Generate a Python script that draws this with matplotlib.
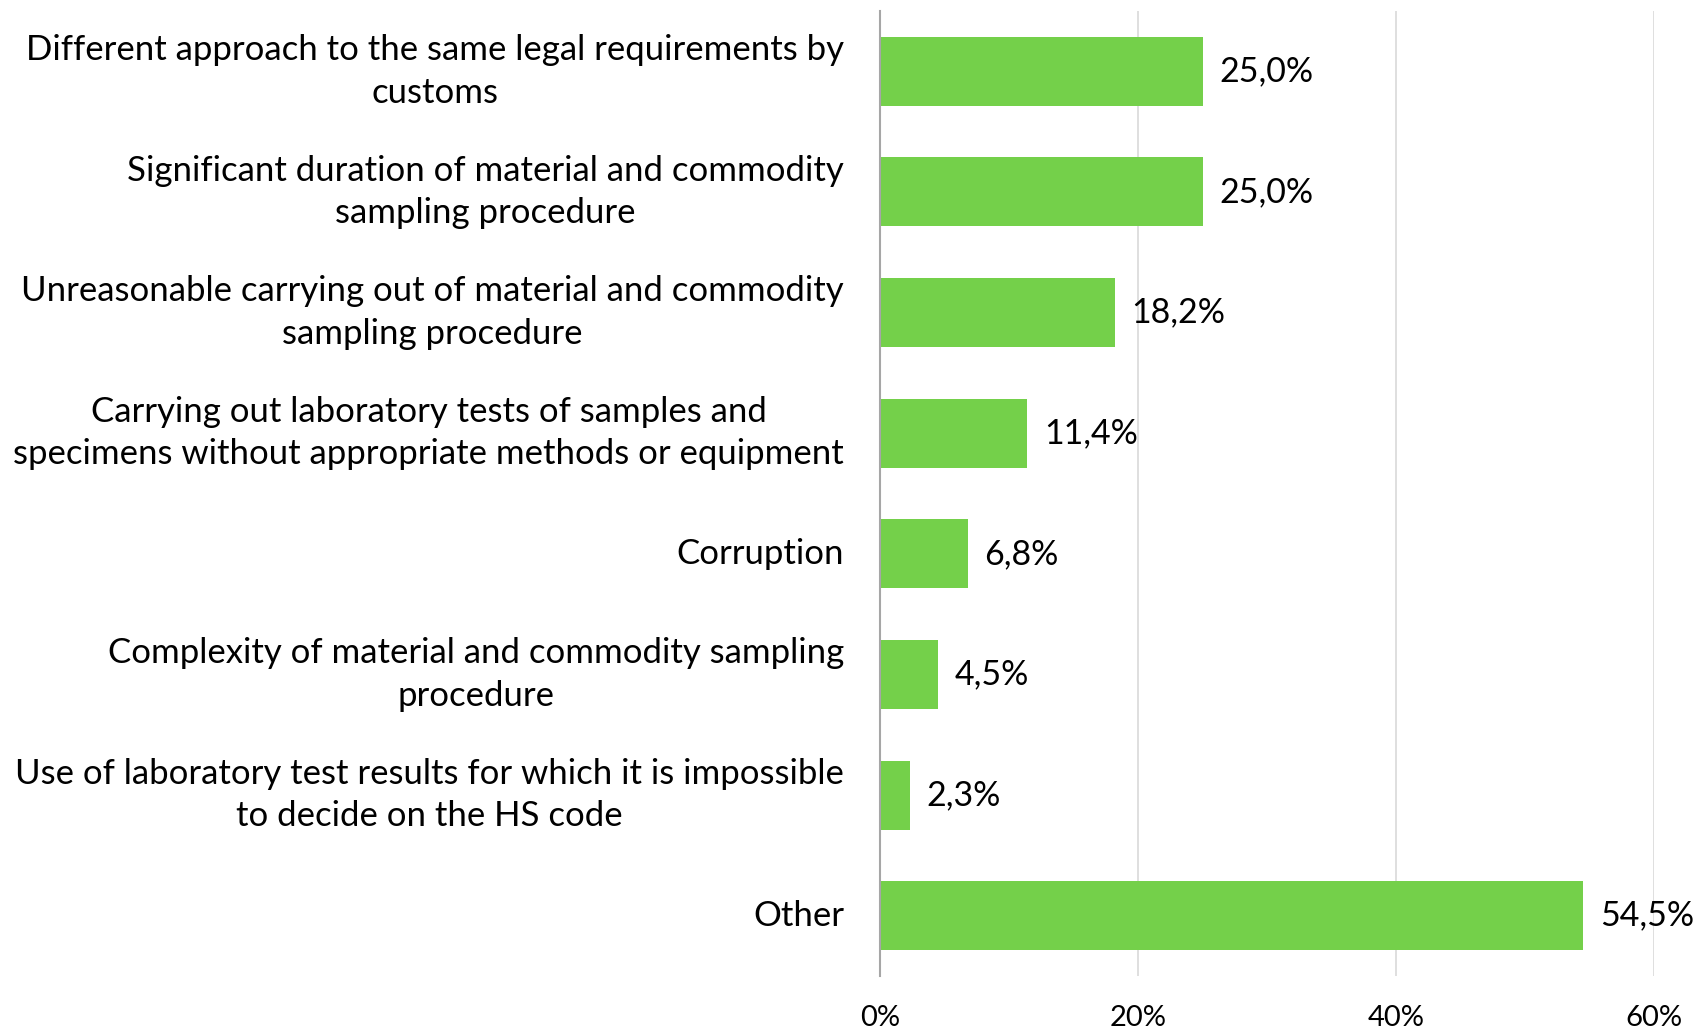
import matplotlib.pyplot as plt

plt.rcParams['font.family'] = ['Lato', 'DejaVu Sans']

# ── Survey results ────────────────────────────────────────────────────────────

reasons = [
    "Different approach to the same legal requirements by\ncustoms",
    "Significant duration of material and commodity\nsampling procedure",
    "Unreasonable carrying out of material and commodity\nsampling procedure",
    "Carrying out laboratory tests of samples and\nspecimens without appropriate methods or equipment",
    "Corruption",
    "Complexity of material and commodity sampling\nprocedure",
    "Use of laboratory test results for which it is impossible\nto decide on the HS code",
    "Other",
]
shares = [25.0, 25.0, 18.2, 11.4, 6.8, 4.5, 2.3, 54.5]
xticks = [0, 20, 40, 60]

BAR = "#74d04a"
GRID = "#d9d9d9"

fig = plt.figure(figsize=(16.96, 10.30), dpi=100)
ax = fig.add_axes([880 / 1696, 1 - 976 / 1030, 774 / 1696, 965 / 1030])

pos = list(range(len(reasons)))
ax.barh(pos, shares, height=0.572, color=BAR, zorder=2)

for y, v in zip(pos, shares):
    ax.text(v + 1.3, y, f"{v:.1f}%".replace(".", ","), va="center", ha="left",
            fontsize=24.5, color="black")

ax.set_ylim(len(reasons) - 0.5, -0.5)
ax.set_xlim(0, 60)
ax.set_yticks(pos)
ax.set_yticklabels(reasons, fontsize=25, multialignment="center",
                   linespacing=1.4, va="center")
ax.set_xticks(xticks)
ax.set_xticklabels([f"{t}%" for t in xticks], fontsize=21)
ax.tick_params(axis="both", length=0)
ax.tick_params(axis="y", pad=26)
ax.tick_params(axis="x", pad=21)

ax.grid(axis="x", color=GRID, lw=1.2, zorder=0)
ax.set_axisbelow(True)
for side in ("top", "right", "bottom"):
    ax.spines[side].set_visible(False)
ax.spines["left"].set_color("#a6a6a6")
ax.spines["left"].set_linewidth(1.5)
ax.spines["left"].set_zorder(3)

fig.savefig("out.png", dpi=100)
